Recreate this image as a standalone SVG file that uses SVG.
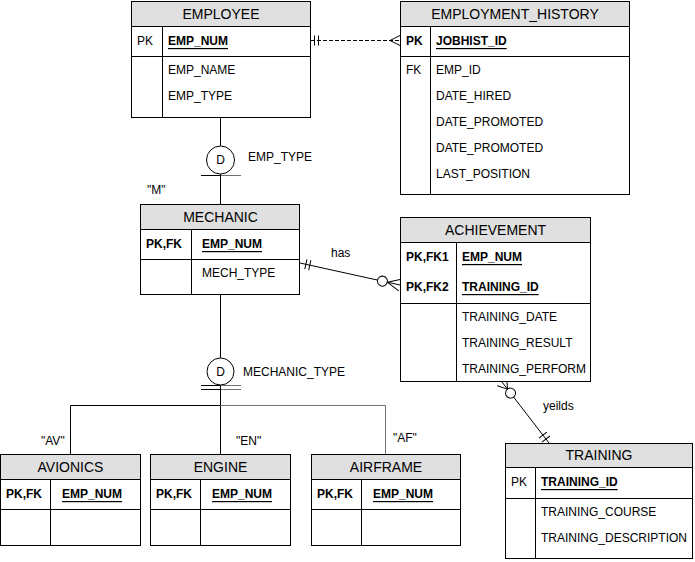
<svg xmlns="http://www.w3.org/2000/svg" width="695" height="562" viewBox="0 0 695 562">
  <style>
    text { font-family: "Liberation Sans", Arial, sans-serif; font-size: 12px; fill: #000; dominant-baseline: central; }
    .title { font-size: 14px; text-anchor: middle; }
    .key { font-weight: bold; font-size: 12px; }
    .pk { font-weight: bold; font-size: 12px; text-decoration: underline; }
    .box { fill: #fff; stroke: #000; stroke-width: 1; }
    .head { fill: #e0e0e0; stroke: #000; stroke-width: 1; }
    .ln { stroke: #000; stroke-width: 1; fill: none; }
    .grey { stroke: #707070; stroke-width: 1; fill: none; }
    .dash { stroke: #000; stroke-width: 1; fill: none; stroke-dasharray: 4 2; }
    .ring { fill: #fff; stroke: #000; stroke-width: 1; }
  </style>

  <!-- connectors -->
  <g id="connectors">
    <!-- EMPLOYEE to EMPLOYMENT_HISTORY (dashed, one to many) -->
    <line class="dash" x1="311" y1="40.5" x2="400" y2="40.5"/>
    <path class="ln" d="M314.5,35.5V45.5M318.5,35.5V45.5"/>
    <path class="ln" d="M390,40.5L400,35.5M390,40.5L400,45.5"/>

    <!-- EMPLOYEE to MECHANIC subtype -->
    <line class="ln" x1="220.5" y1="118" x2="220.5" y2="146"/>
    <circle class="ring" cx="220.5" cy="160" r="14"/>
    <text x="220.5" y="160" text-anchor="middle">D</text>
    <line class="ln" x1="201" y1="175.5" x2="220.5" y2="175.5"/>
    <line class="grey" x1="220.5" y1="175.5" x2="241" y2="175.5"/>
    <line class="ln" x1="220.5" y1="174" x2="220.5" y2="204"/>

    <!-- MECHANIC to subtypes -->
    <line class="ln" x1="220.5" y1="295" x2="220.5" y2="358"/>
    <circle class="ring" cx="220.5" cy="371.5" r="13.5"/>
    <text x="220.5" y="371.5" text-anchor="middle">D</text>
    <path class="ln" d="M201,385.5H220.5M201,389.5H220.5"/>
    <path class="grey" d="M220.5,385.5H241M220.5,389.5H241"/>
    <line class="ln" x1="220.5" y1="385" x2="220.5" y2="454"/>
    <path class="ln" d="M220.5,405.5H70.5V454"/>
    <path class="grey" d="M220.5,405.5H385.5V454"/>

    <!-- MECHANIC has ACHIEVEMENT -->
    <line class="ln" x1="300" y1="263" x2="400" y2="285"/>
    <g transform="translate(300,263) rotate(12.4)">
      <path class="ln" d="M6,-5V5M10,-5V5"/>
    </g>
    <g transform="translate(400,285) rotate(12.4)">
      <path class="ln" d="M-13,0L0,-6M-13,0L0,6"/>
      <circle class="ring" cx="-18" cy="0" r="5"/>
    </g>

    <!-- ACHIEVEMENT yeilds TRAINING -->
    <line class="ln" x1="502" y1="382" x2="549" y2="443"/>
    <g transform="translate(502,382) rotate(232.4)">
      <path class="ln" d="M-9,0L0,-6M-9,0L0,6"/>
      <circle class="ring" cx="-14" cy="0" r="5"/>
    </g>
    <g transform="translate(549,443) rotate(52.4)">
      <path class="ln" d="M-5,-5V5M-10,-5V5"/>
    </g>

    <!-- connector labels -->
    <text x="248" y="157">EMP_TYPE</text>
    <text x="147" y="190">"M"</text>
    <text x="243" y="372">MECHANIC_TYPE</text>
    <text x="41" y="441">"AV"</text>
    <text x="236" y="441">"EN"</text>
    <text x="393" y="438">"AF"</text>
    <text x="331" y="253">has</text>
    <text x="543" y="406">yeilds</text>
  </g>

  <!-- EMPLOYEE -->
  <g id="employee">
    <rect class="box" x="131.5" y="1.5" width="179" height="116"/>
    <rect class="head" x="131.5" y="1.5" width="179" height="25"/>
    <path class="ln" d="M131.5,56.5H310.5M162.5,26.5V117.5"/>
    <text class="title" x="221" y="14">EMPLOYEE</text>
    <text x="137" y="41">PK</text>
    <text class="pk" x="168" y="41">EMP_NUM</text>
    <text x="168" y="70">EMP_NAME</text>
    <text x="168" y="96">EMP_TYPE</text>
  </g>

  <!-- EMPLOYMENT_HISTORY -->
  <g id="employment_history">
    <rect class="box" x="400.5" y="1.5" width="229" height="193"/>
    <rect class="head" x="400.5" y="1.5" width="229" height="25"/>
    <path class="ln" d="M400.5,56.5H629.5M430.5,26.5V194.5"/>
    <text class="title" x="515" y="14">EMPLOYMENT_HISTORY</text>
    <text class="key" x="406" y="41">PK</text>
    <text class="pk" x="436" y="41">JOBHIST_ID</text>
    <text x="406" y="70">FK</text>
    <text x="436" y="70">EMP_ID</text>
    <text x="436" y="96">DATE_HIRED</text>
    <text x="436" y="122">DATE_PROMOTED</text>
    <text x="436" y="148">DATE_PROMOTED</text>
    <text x="436" y="174">LAST_POSITION</text>
  </g>

  <!-- MECHANIC -->
  <g id="mechanic">
    <rect class="box" x="140.5" y="204.5" width="159" height="90"/>
    <rect class="head" x="140.5" y="204.5" width="159" height="25"/>
    <path class="ln" d="M140.5,259.5H299.5M191.5,229.5V294.5"/>
    <text class="title" x="220.5" y="217">MECHANIC</text>
    <text class="key" x="146" y="244">PK,FK</text>
    <text class="pk" x="202" y="244">EMP_NUM</text>
    <text x="202" y="273">MECH_TYPE</text>
  </g>

  <!-- ACHIEVEMENT -->
  <g id="achievement">
    <rect class="box" x="400.5" y="217.5" width="190" height="164"/>
    <rect class="head" x="400.5" y="217.5" width="190" height="25"/>
    <path class="ln" d="M400.5,303.5H590.5M456.5,242.5V381.5"/>
    <text class="title" x="495.5" y="230">ACHIEVEMENT</text>
    <text class="key" x="406" y="257">PK,FK1</text>
    <text class="pk" x="462" y="257">EMP_NUM</text>
    <text class="key" x="406" y="287">PK,FK2</text>
    <text class="pk" x="462" y="287">TRAINING_ID</text>
    <text x="462" y="317">TRAINING_DATE</text>
    <text x="462" y="343">TRAINING_RESULT</text>
    <text x="462" y="369">TRAINING_PERFORM</text>
  </g>

  <!-- AVIONICS -->
  <g id="avionics">
    <rect class="box" x="0.5" y="454.5" width="140" height="91"/>
    <rect class="head" x="0.5" y="454.5" width="140" height="25"/>
    <path class="ln" d="M0.5,509.5H140.5M50.5,479.5V545.5"/>
    <text class="title" x="70.5" y="467">AVIONICS</text>
    <text class="key" x="6" y="494">PK,FK</text>
    <text class="pk" x="62" y="494">EMP_NUM</text>
  </g>

  <!-- ENGINE -->
  <g id="engine">
    <rect class="box" x="150.5" y="454.5" width="140" height="91"/>
    <rect class="head" x="150.5" y="454.5" width="140" height="25"/>
    <path class="ln" d="M150.5,509.5H290.5M200.5,479.5V545.5"/>
    <text class="title" x="220.5" y="467">ENGINE</text>
    <text class="key" x="156" y="494">PK,FK</text>
    <text class="pk" x="212" y="494">EMP_NUM</text>
  </g>

  <!-- AIRFRAME -->
  <g id="airframe">
    <rect class="box" x="311.5" y="454.5" width="149" height="91"/>
    <rect class="head" x="311.5" y="454.5" width="149" height="25"/>
    <path class="ln" d="M311.5,509.5H460.5M361.5,479.5V545.5"/>
    <text class="title" x="386" y="467">AIRFRAME</text>
    <text class="key" x="317" y="494">PK,FK</text>
    <text class="pk" x="373" y="494">EMP_NUM</text>
  </g>

  <!-- TRAINING -->
  <g id="training">
    <rect class="box" x="505.5" y="443.5" width="187" height="115"/>
    <rect class="head" x="505.5" y="443.5" width="187" height="24"/>
    <path class="ln" d="M505.5,498.5H692.5M535.5,467.5V558.5"/>
    <text class="title" x="599" y="455">TRAINING</text>
    <text x="511" y="482">PK</text>
    <text class="pk" x="541" y="482">TRAINING_ID</text>
    <text x="541" y="512">TRAINING_COURSE</text>
    <text x="541" y="538">TRAINING_DESCRIPTION</text>
  </g>
</svg>
